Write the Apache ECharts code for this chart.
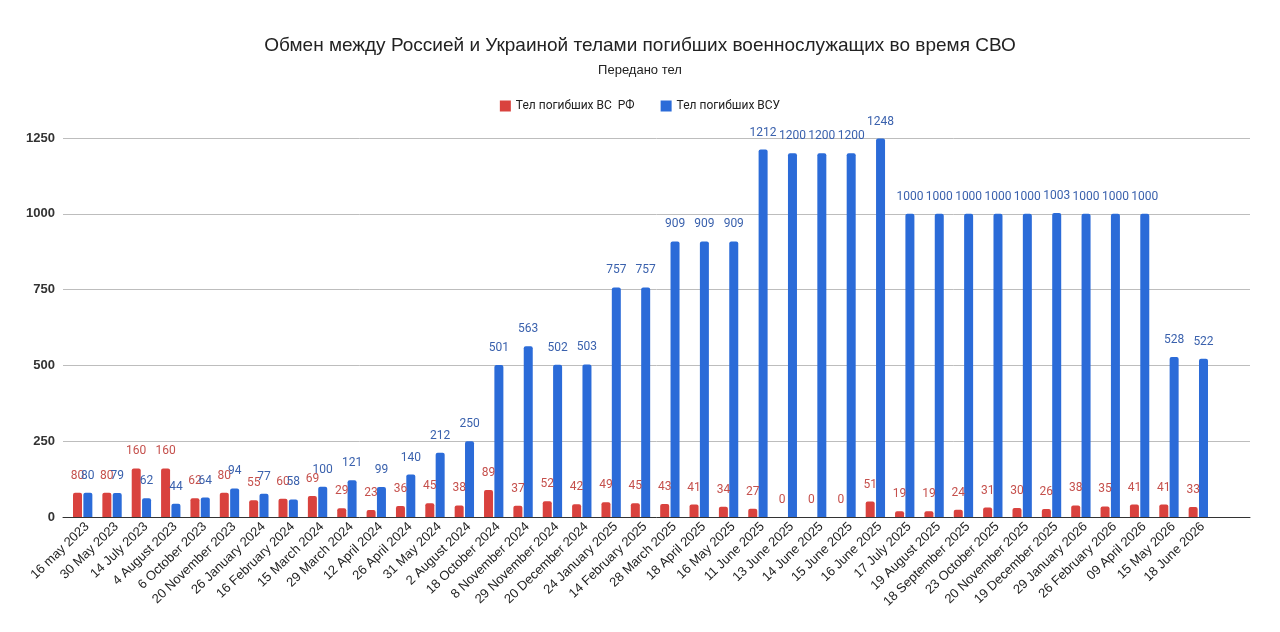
<!DOCTYPE html>
<html>
<head>
<meta charset="utf-8">
<script src="https://cdn.jsdelivr.net/npm/echarts@6/dist/echarts.min.js"></script>
<style>
html,body{margin:0;padding:0;background:#fff;}
#main{width:1280px;height:632px;}
</style>
</head>
<body>
<div id="main"></div>
<script>
var dates = ['16 may 2023','30 May 2023','14 July 2023','4 August 2023','6 October 2023','20 November 2023',
	'26 January 2024','16 February 2024','15 March 2024','29 March 2024','12 April 2024','26 April 2024',
	'31 May 2024','2 August 2024','18 October 2024','8 November 2024','29 November 2024','20 December 2024',
	'24 January 2025','14 February 2025','28 March 2025','18 April 2025','16 May 2025','11 June 2025',
	'13 June 2025','14 June 2025','15 June 2025','16 June 2025','17 July 2025','19 August 2025',
	'18 September 2025','23 October 2025','20 November 2025','19 December 2025','29 January 2026',
	'26 February 2026','09 April 2026','15 May 2026','18 June 2026'];
var bodiesRF = [80,80,160,160,62,80,55,60,69,29,23,36,45,38,89,37,52,42,49,45,43,41,34,27,
	0,0,0,51,19,19,24,31,30,26,38,35,41,41,33];
var bodiesUA = [80,79,62,44,64,94,77,58,100,121,99,140,212,250,501,563,502,503,757,757,909,909,909,1212,
	1200,1200,1200,1248,1000,1000,1000,1000,1000,1003,1000,1000,1000,528,522];
var yTicks = {min:0, max:1250, interval:250};

var myChart = echarts.init(document.getElementById('main'));

function labelStyle(color){
	return {
		show: true,
		position: 'top',
		distance: 11,
		color: color,
		fontSize: 12,
		fontFamily: 'Roboto'
	};
}

var option = {
	animation: false,
	title: {
		text: 'Обмен между Россией и Украиной телами погибших военнослужащих во время СВО',
		subtext: 'Передано тел',
		left: 'center',
		top: 31,
		itemGap: 9,
		textStyle: {fontFamily: 'Liberation Sans', fontSize: 19, fontWeight: 'normal', color: '#222'},
		subtextStyle: {fontFamily: 'Liberation Sans', fontSize: 13, color: '#222'}
	},
	legend: {
		top: 95,
		left: 'center',
		itemWidth: 11,
		itemHeight: 11,
		itemGap: 26,
		icon: 'rect',
		textStyle: {fontFamily: 'Roboto', fontSize: 12, color: '#222'},
		data: ['Тел погибших ВС  РФ','Тел погибших ВСУ']
	},
	grid: [
		{left: 68, right: 67, top: 138, bottom: 115},
		{left: 63, right: 30, top: 138, bottom: 115}
	],
	xAxis: [
		{
			gridIndex: 0,
			type: 'category',
			data: dates,
			axisLine: {show: false},
			axisTick: {show: false},
			axisLabel: {
				interval: 0,
				rotate: 44,
				margin: 3,
				verticalAlign: 'top',
				fontFamily: 'Liberation Sans',
				fontSize: 13,
				color: '#222'
			}
		},
		{
			gridIndex: 1,
			type: 'value',
			min: 0,
			max: 1,
			axisLine: {show: true, lineStyle: {color: '#333', width: 1}},
			axisTick: {show: false},
			axisLabel: {show: false},
			splitLine: {show: false}
		}
	],
	yAxis: [
		{
			gridIndex: 0,
			type: 'value',
			min: yTicks.min,
			max: yTicks.max,
			interval: yTicks.interval,
			axisLine: {show: false},
			axisTick: {show: false},
			axisLabel: {show: false},
			splitLine: {show: false}
		},
		{
			gridIndex: 1,
			type: 'value',
			min: yTicks.min,
			max: yTicks.max,
			interval: yTicks.interval,
			axisLine: {show: false},
			axisTick: {show: false},
			axisLabel: {
				margin: 8,
				fontFamily: 'Liberation Sans',
				fontSize: 13,
				fontWeight: 'bold',
				color: '#333',
				formatter: function(v){ return String(v); }
			},
			splitLine: {lineStyle: {color: '#bdbdbd', width: 1}}
		}
	],
	series: [
		{
			name: 'Тел погибших ВС  РФ',
			type: 'bar',
			xAxisIndex: 0,
			yAxisIndex: 0,
			data: bodiesRF,
			barWidth: 9,
			barGap: '15%',
			itemStyle: {color: '#d9423e', borderRadius: [2,2,0,0]},
			label: labelStyle('#c5504c'),
			z: 3
		},
		{
			name: 'Тел погибших ВСУ',
			type: 'bar',
			xAxisIndex: 0,
			yAxisIndex: 0,
			data: bodiesUA,
			barWidth: 9,
			itemStyle: {color: '#2b6bd8', borderRadius: [2,2,0,0]},
			label: labelStyle('#3a61ad'),
			z: 3
		}
	]
};
myChart.setOption(option);
</script>
</body>
</html>
